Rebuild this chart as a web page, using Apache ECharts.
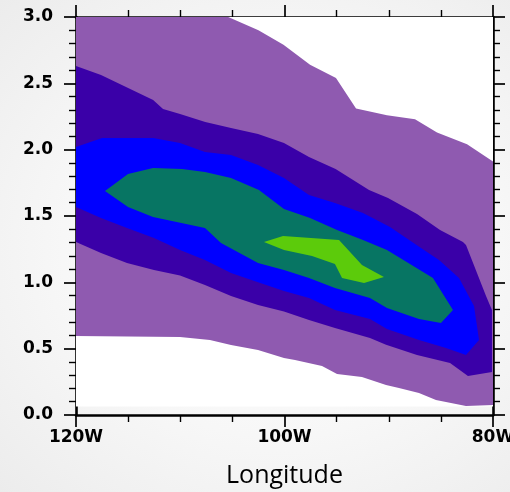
<!DOCTYPE html>
<html>
<head>
<meta charset="utf-8">
<script src="https://cdn.jsdelivr.net/npm/echarts@6/dist/echarts.min.js"></script>
<style>
html,body{margin:0;padding:0;width:510px;height:492px;overflow:hidden;
background:radial-gradient(ellipse at 55% 50%, #ffffff 0%, #f7f7f7 55%, #ececec 100%);}
#chart{width:510px;height:492px;}
</style>
</head>
<body>
<div id="chart"></div>
<script>
// Tick values / labels
const xTickValues = [-120, -100, -80];
const xTickLabels = ['120W', '100W', '80W'];
const yTickLabels = ['0.0', '0.5', '1.0', '1.5', '2.0', '2.5', '3.0'];

// Data domain (region with valid values, drawn white)
const domain = [[-120, 0.065], [-80, 0.065], [-80, 3.0], [-120, 3.0]];

// Filled contour level 1 (lowest shaded level)
const level1 = [
  [-120, 3.0], [-105.4, 3.0], [-102.5, 2.90], [-100.1, 2.79], [-97.55, 2.64], [-95.06, 2.54],
  [-93.14, 2.31], [-90.17, 2.26], [-87.48, 2.23], [-85.37, 2.13], [-82.49, 2.04], [-80, 1.91],
  [-80, 0.075], [-82.59, 0.068], [-85.47, 0.113], [-87.10, 0.166], [-89.02, 0.204], [-90.26, 0.226],
  [-92.57, 0.286], [-94.96, 0.309], [-96.40, 0.369], [-98.99, 0.415], [-100.05, 0.430],
  [-102.54, 0.490], [-105.13, 0.528], [-107.15, 0.565], [-110.02, 0.588], [-120, 0.595]
];
// level 2
const level2 = [
  [-120, 2.631], [-117.6, 2.563], [-112.6, 2.374], [-111.65, 2.306], [-110.02, 2.269],
  [-107.6, 2.208], [-105.13, 2.163], [-102.54, 2.118], [-100.05, 2.050], [-97.65, 1.945],
  [-95.1, 1.854], [-91.89, 1.696], [-90.07, 1.636], [-87.29, 1.515], [-85.08, 1.394],
  [-82.88, 1.304], [-82.59, 1.281], [-80.67, 0.897], [-80.1, 0.791], [-80.1, 0.324],
  [-82.40, 0.294], [-84.12, 0.392], [-87.29, 0.452], [-90.26, 0.530], [-91.80, 0.580],
  [-95.16, 0.656], [-97.65, 0.716], [-100.05, 0.780], [-102.54, 0.829], [-105.13, 0.897],
  [-107.63, 0.980], [-110.02, 1.052], [-112.52, 1.093], [-115.11, 1.146], [-117.6, 1.221],
  [-120, 1.304]
];
// level 3
const level3 = [
  [-120, 2.020], [-117.5, 2.088], [-112.6, 2.088], [-110.02, 2.050], [-107.63, 1.982],
  [-105.13, 1.960], [-102.54, 1.884], [-100.05, 1.786], [-97.65, 1.658], [-95.16, 1.598],
  [-92.47, 1.523], [-89.88, 1.417], [-87.05, 1.266], [-85.18, 1.168], [-83.26, 1.033],
  [-81.82, 0.822], [-81.34, 0.565], [-82.59, 0.452], [-84.51, 0.505], [-87.10, 0.565],
  [-90.17, 0.648], [-91.80, 0.724], [-95.16, 0.791], [-97.65, 0.882], [-100.05, 0.935],
  [-102.54, 1.000], [-105.13, 1.070], [-107.63, 1.168], [-110.02, 1.244], [-112.52, 1.334],
  [-115.11, 1.410], [-117.6, 1.485], [-120, 1.568]
];
// level 4
const level4 = [
  [-117.22, 1.688], [-115.01, 1.817], [-112.61, 1.862], [-109.83, 1.854], [-107.63, 1.832],
  [-105.13, 1.786], [-102.45, 1.696], [-100.05, 1.553], [-97.55, 1.485], [-94.96, 1.394],
  [-92.47, 1.319], [-90.17, 1.244], [-85.76, 1.033], [-83.84, 0.791], [-84.99, 0.693],
  [-87.10, 0.724], [-90.17, 0.807], [-91.80, 0.882], [-95.16, 0.957], [-97.65, 1.033],
  [-100.05, 1.093], [-102.54, 1.146], [-106.09, 1.296], [-107.63, 1.410], [-112.61, 1.492],
  [-115.01, 1.568]
];
// level 5 (highest)
const level5 = [
  [-101.97, 1.304], [-100.14, 1.349], [-94.77, 1.319], [-92.57, 1.131], [-90.46, 1.040],
  [-92.37, 0.995], [-94.48, 1.033], [-95.16, 1.138], [-97.36, 1.198], [-100.05, 1.244]
];

const polygons = [domain, level1, level2, level3, level4, level5];
const fills = ['#ffffff', '#8f5ab0', '#3a00a8', '#0000ff', '#077563', '#5ccb0b'];

const chart = echarts.init(document.getElementById('chart'), null, {renderer: 'canvas'});

const tickFont = {fontFamily: 'DejaVu Sans', fontSize: 17, fontWeight: 'bold', color: '#000'};

const axisCommon = {
  axisLine: {show: true, onZero: false, lineStyle: {color: '#000', width: 2.6}},
  axisTick: {show: true, inside: false, length: 12, lineStyle: {color: '#000', width: 1.7}},
  minorTick: {show: true, length: 7, lineStyle: {color: '#000', width: 1.4}},
  splitLine: {show: false}
};

chart.setOption({
  animation: false,
  backgroundColor: 'transparent',
  grid: {left: 76, right: 17, top: 17, bottom: 77, containLabel: false, outerBoundsMode: 'none'},
  xAxis: [
    Object.assign({
      type: 'value', position: 'bottom', min: -120, max: -80, interval: 20,
      minorTick: Object.assign({}, axisCommon.minorTick, {splitNumber: 4}),
      axisLabel: Object.assign({margin: 14, formatter: v => xTickLabels[xTickValues.indexOf(v)] || ''}, tickFont),
      name: 'Longitude', nameLocation: 'middle', nameGap: 48,
      nameTextStyle: {fontFamily: 'Open Sans', fontSize: 25, color: '#000'}
    }, {axisLine: axisCommon.axisLine, axisTick: axisCommon.axisTick, splitLine: axisCommon.splitLine}),
    Object.assign({
      type: 'value', position: 'top', min: -120, max: -80, interval: 20,
      minorTick: Object.assign({}, axisCommon.minorTick, {splitNumber: 4}),
      axisLabel: {show: false}
    }, {axisLine: axisCommon.axisLine, axisTick: axisCommon.axisTick, splitLine: axisCommon.splitLine})
  ],
  yAxis: [
    Object.assign({
      type: 'value', position: 'left', min: 0, max: 3, interval: 0.5,
      minorTick: Object.assign({}, axisCommon.minorTick, {splitNumber: 5}),
      axisLabel: Object.assign({margin: 23, formatter: v => yTickLabels[Math.round(v / 0.5)]}, tickFont)
    }, {axisLine: axisCommon.axisLine, axisTick: axisCommon.axisTick, splitLine: axisCommon.splitLine}),
    Object.assign({
      type: 'value', position: 'right', min: 0, max: 3, interval: 0.5,
      minorTick: Object.assign({}, axisCommon.minorTick, {splitNumber: 5}),
      axisLabel: {show: false}
    }, {axisLine: axisCommon.axisLine, axisTick: axisCommon.axisTick, splitLine: axisCommon.splitLine})
  ],
  series: polygons.map((pts, i) => ({
    type: 'custom',
    coordinateSystem: 'cartesian2d',
    xAxisIndex: 0, yAxisIndex: 0,
    silent: true,
    z: 1 + i,
    data: pts,
    encode: {x: 0, y: 1},
    renderItem: (params, api) => {
      if (params.dataIndex !== 0) return null;
      const points = pts.map(p => api.coord(p));
      return {type: 'polygon', shape: {points: points}, style: {fill: fills[i], stroke: null}};
    }
  }))
});
</script>
</body>
</html>
